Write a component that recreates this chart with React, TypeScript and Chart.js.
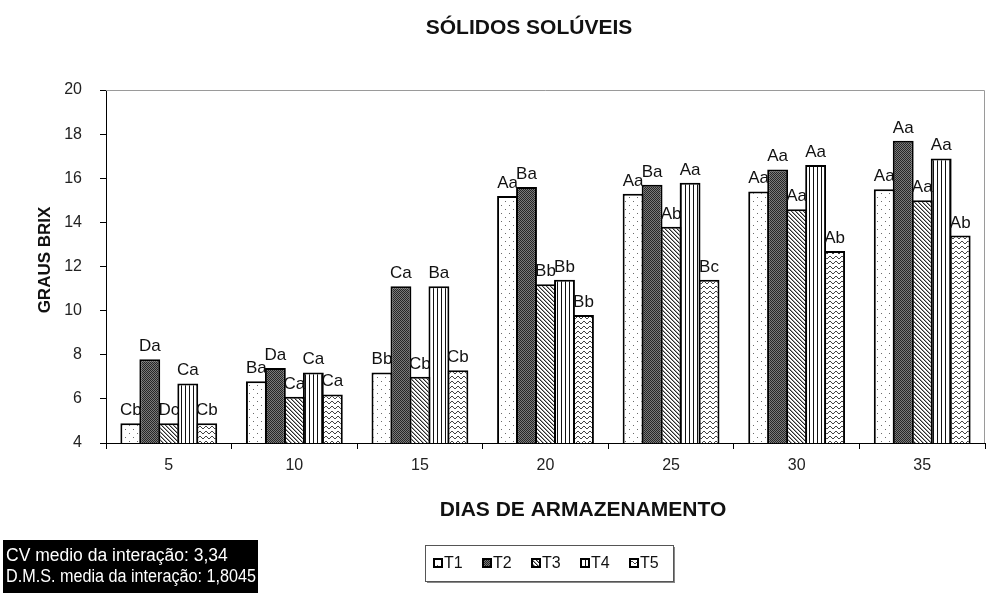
import { useEffect, useRef } from 'react';
import { Chart, registerables } from 'chart.js';

Chart.register(...registerables);

// Storage days (x categories)
const DAYS = ['5', '10', '15', '20', '25', '30', '35'];

// Treatment names
const TREATMENTS = ['T1', 'T2', 'T3', 'T4', 'T5'];

// Soluble solids (°Brix) per treatment, one value per storage day
const T1_VALUES = [4.9, 6.8, 7.2, 15.2, 15.3, 15.4, 15.5];
const T2_VALUES = [7.8, 7.4, 11.1, 15.6, 15.7, 16.4, 17.7];
const T3_VALUES = [4.9, 6.1, 7.0, 11.2, 13.8, 14.6, 15.0];
const T4_VALUES = [6.7, 7.2, 11.1, 11.4, 15.8, 16.6, 16.9];
const T5_VALUES = [4.9, 6.2, 7.3, 9.8, 11.4, 12.7, 13.4];

// Mean-comparison letters shown above each bar
const T1_LETTERS = ['Cb', 'Ba', 'Bb', 'Aa', 'Aa', 'Aa', 'Aa'];
const T2_LETTERS = ['Da', 'Da', 'Ca', 'Ba', 'Ba', 'Aa', 'Aa'];
const T3_LETTERS = ['Dc', 'Ca', 'Cb', 'Bb', 'Ab', 'Aa', 'Aa'];
const T4_LETTERS = ['Ca', 'Ca', 'Ba', 'Bb', 'Aa', 'Aa', 'Aa'];
const T5_LETTERS = ['Cb', 'Ca', 'Cb', 'Bb', 'Bc', 'Ab', 'Ab'];

// Y axis range
const Y_MIN = 4;
const Y_MAX = 20;
const Y_STEP = 2;

// Texts
const TITLE = 'SÓLIDOS SOLÚVEIS';
const X_TITLE = 'DIAS DE ARMAZENAMENTO';
const Y_TITLE = 'GRAUS BRIX';
const NOTE_LINES = ['CV medio da interação: 3,34', 'D.M.S. media da interação: 1,8045'];

const FONT = "'Liberation Sans', Arial, sans-serif";

const SERIES = [T1_VALUES, T2_VALUES, T3_VALUES, T4_VALUES, T5_VALUES];
const LETTERS = [T1_LETTERS, T2_LETTERS, T3_LETTERS, T4_LETTERS, T5_LETTERS];

type Paint = (g: CanvasRenderingContext2D) => void;

function makePattern(w: number, h: number, bg: string, paint: Paint): CanvasPattern {
  const c = document.createElement('canvas');
  c.width = w;
  c.height = h;
  const g = c.getContext('2d')!;
  g.fillStyle = bg;
  g.fillRect(0, 0, w, h);
  paint(g);
  return g.createPattern(c, 'repeat')!;
}

function dot(g: CanvasRenderingContext2D, color: string, pts: number[][]) {
  g.fillStyle = color;
  for (const [x, y] of pts) g.fillRect(x, y, 1, 1);
}

function buildPatterns(): CanvasPattern[] {
  // T1: sparse dots
  const p1 = makePattern(8, 8, '#ffffff', (g) => dot(g, '#6a6a6a', [[1, 1], [5, 5]]));
  // T2: dark fine checker
  const p2 = makePattern(2, 2, '#7a7a7a', (g) => dot(g, '#262626', [[0, 0], [1, 1]]));
  // T3: diagonal hatching
  const p3 = makePattern(4, 4, '#ffffff', (g) => {
    dot(g, '#2a2a2a', [[0, 0], [1, 1], [2, 2], [3, 3]]);
    dot(g, '#a0a0a0', [[1, 0], [2, 1], [3, 2], [0, 3]]);
  });
  // T4: vertical stripes
  const p4 = makePattern(4, 1, '#ffffff', (g) => dot(g, '#111111', [[1, 0]]));
  // T5: small waves
  const p5 = makePattern(6, 5, '#ffffff', (g) =>
    dot(g, '#444444', [[0, 2], [1, 1], [2, 1], [3, 2], [4, 3], [5, 3]])
  );
  return [p1, p2, p3, p4, p5];
}

const decorations = {
  id: 'decorations',
  afterDatasetsDraw(chart: any) {
    const ctx: CanvasRenderingContext2D = chart.ctx;
    ctx.save();
    ctx.fillStyle = '#111';
    ctx.font = `17px ${FONT}`;
    ctx.textAlign = 'center';
    ctx.textBaseline = 'alphabetic';
    chart.data.datasets.forEach((_ds: any, di: number) => {
      const meta = chart.getDatasetMeta(di);
      meta.data.forEach((el: any, i: number) => {
        ctx.fillText(LETTERS[di][i], el.x, el.y - 8);
      });
    });
    ctx.restore();
  },
  afterDraw(chart: any) {
    const ctx: CanvasRenderingContext2D = chart.ctx;
    const area = chart.chartArea;
    ctx.save();

    // plot frame (top and right)
    ctx.strokeStyle = '#9a9a9a';
    ctx.lineWidth = 1;
    ctx.beginPath();
    ctx.moveTo(area.left, area.top + 0.5);
    ctx.lineTo(area.right - 0.5, area.top + 0.5);
    ctx.lineTo(area.right - 0.5, area.bottom);
    ctx.stroke();

    // chart title
    ctx.fillStyle = '#111';
    ctx.textAlign = 'center';
    ctx.textBaseline = 'middle';
    ctx.font = `bold 21px ${FONT}`;
    ctx.fillText(TITLE, 529, 28);

    // axis titles
    ctx.font = `bold 21px ${FONT}`;
    ctx.fillText(X_TITLE, 583, 510);
    ctx.save();
    ctx.translate(45, 260);
    ctx.rotate(-Math.PI / 2);
    ctx.font = `bold 17px ${FONT}`;
    ctx.fillText(Y_TITLE, 0, 0);
    ctx.restore();

    // legend
    const lx = 425;
    const ly = 545;
    ctx.strokeStyle = '#555';
    ctx.lineWidth = 1;
    ctx.strokeRect(lx + 0.5, ly + 0.5, 248, 36);
    ctx.fillStyle = '#888';
    ctx.fillRect(lx + 249, ly + 2, 1, 36);
    ctx.fillRect(lx + 2, ly + 37, 248, 1);
    ctx.font = `16px ${FONT}`;
    ctx.textAlign = 'left';
    ctx.textBaseline = 'middle';
    chart.data.datasets.forEach((ds: any, i: number) => {
      const sx = 433 + i * 49;
      const sy = 558;
      ctx.fillStyle = ds.backgroundColor;
      ctx.fillRect(sx, sy, 10, 10);
      ctx.strokeStyle = '#000';
      ctx.lineWidth = 2;
      ctx.strokeRect(sx + 1, sy + 1, 8, 8);
      ctx.fillStyle = '#111';
      ctx.fillText(ds.label, sx + 11, 564);
    });

    // statistics note
    ctx.fillStyle = '#000';
    ctx.fillRect(3, 540, 255, 53);
    ctx.fillStyle = '#fff';
    ctx.font = `17.5px ${FONT}`;
    ctx.textAlign = 'left';
    ctx.fillText(NOTE_LINES[0], 6, 556, 230);
    ctx.fillText(NOTE_LINES[1], 6, 577, 250);

    ctx.restore();
  },
};

export default function App() {
  const ref = useRef<HTMLCanvasElement | null>(null);

  useEffect(() => {
    const canvas = ref.current;
    if (!canvas) return;
    const patterns = buildPatterns();

    const chart = new Chart(canvas, {
      type: 'bar',
      data: {
        labels: DAYS,
        datasets: SERIES.map((values, i) => ({
          label: TREATMENTS[i],
          data: values,
          backgroundColor: patterns[i] as any,
          borderColor: '#000',
          borderWidth: 2,
          borderSkipped: false,
          barPercentage: 1.1,
          categoryPercentage: 0.756,
        })),
      },
      options: {
        responsive: false,
        animation: false,
        layout: { padding: { top: 90, right: 2, bottom: 120, left: 0 } },
        plugins: {
          legend: { display: false },
          title: { display: false },
          tooltip: { enabled: false },
        },
        scales: {
          x: {
            grid: {
              offset: true,
              drawOnChartArea: false,
              drawTicks: true,
              tickLength: 6,
              color: '#000',
            },
            border: { color: '#000', width: 1 },
            ticks: {
              color: '#222',
              font: { family: FONT, size: 16 },
              padding: 7,
              maxRotation: 0,
            },
            afterFit: (scale: any) => {
              scale.height = 30;
            },
          },
          y: {
            min: Y_MIN,
            max: Y_MAX,
            ticks: {
              stepSize: Y_STEP,
              color: '#222',
              font: { family: FONT, size: 16 },
              padding: 18,
            },
            grid: {
              drawOnChartArea: false,
              drawTicks: true,
              tickLength: 6,
              color: '#000',
            },
            border: { color: '#000', width: 1 },
            afterFit: (scale: any) => {
              scale.width = 106;
            },
          },
        },
      },
      plugins: [decorations],
    });

    return () => chart.destroy();
  }, []);

  return (
    <div style={{ position: 'fixed', left: 0, top: 0, width: 987, height: 593, background: '#fff' }}>
      <canvas ref={ref} width={987} height={593} />
    </div>
  );
}
